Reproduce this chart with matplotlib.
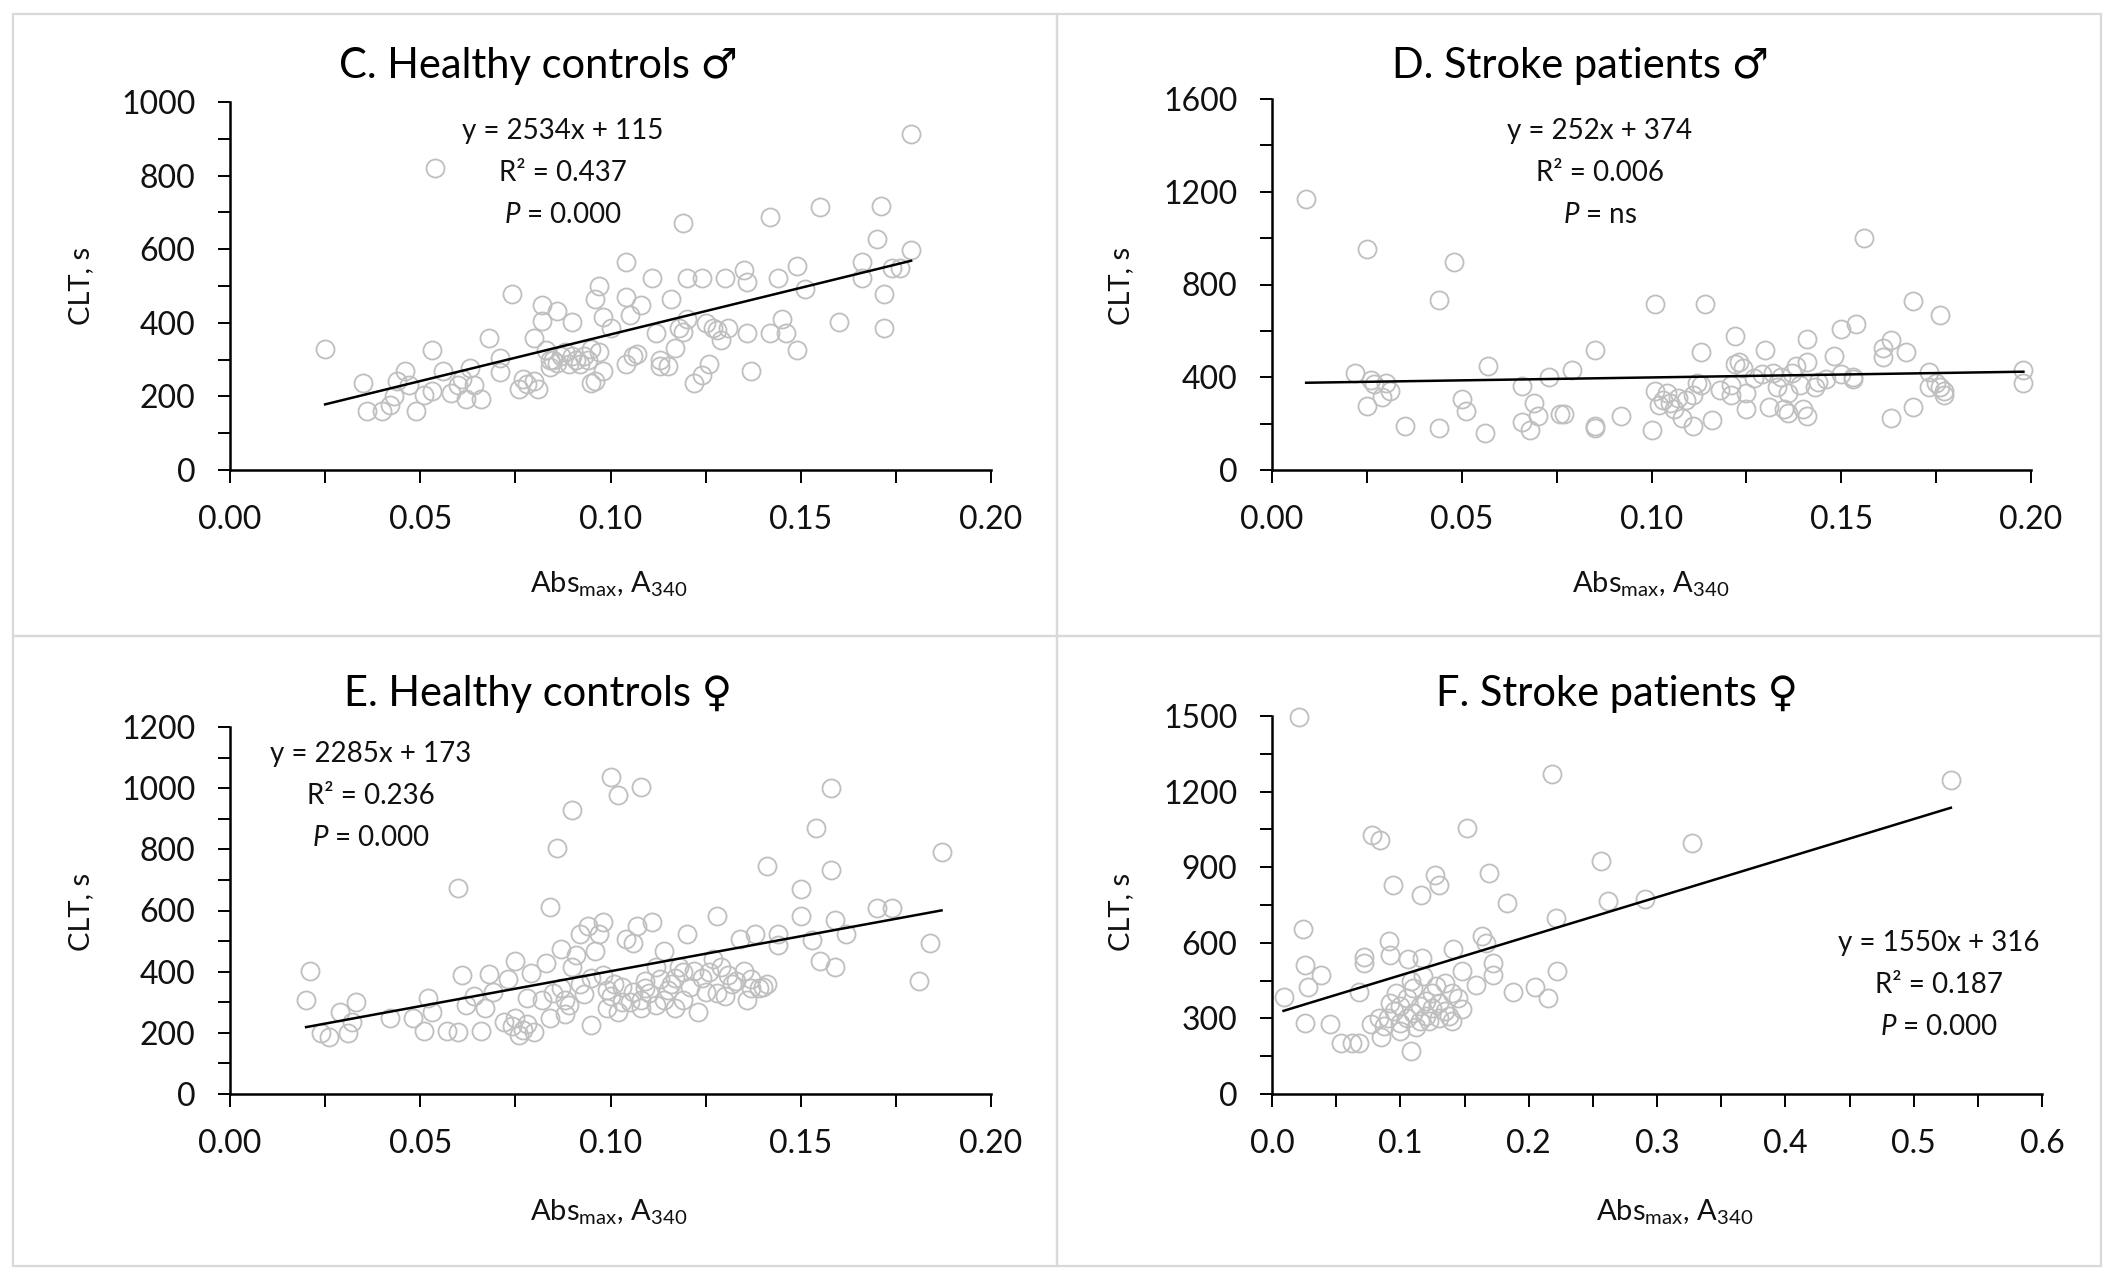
import matplotlib
matplotlib.use("Agg")
import matplotlib.pyplot as plt
from matplotlib.patches import Rectangle
from matplotlib.ticker import MultipleLocator, FormatStrFormatter
import numpy as np

plt.rcParams['font.family'] = ['Lato', 'DejaVu Sans']
plt.rcParams['mathtext.fontset'] = 'custom'
plt.rcParams['mathtext.rm'] = 'Lato'
plt.rcParams['mathtext.it'] = 'Lato:italic'

# ---------------- data ----------------
# C. Healthy controls (male)
cx = [0.025,0.054,0.179,0.035,0.036,0.040,0.042,0.044,0.046,0.043,
      0.049,0.051,0.053,0.053,0.056,0.061,0.062,0.064,0.066,0.063,
      0.068,0.071,0.071,0.074,0.076,0.077,0.080,0.081,0.080,0.082,
      0.082,0.083,0.086,0.085,0.087,0.089,0.090,0.090,0.092,0.094,
      0.095,0.096,0.096,0.097,0.097,0.098,0.098,0.100,0.104,0.104,
      0.104,0.105,0.106,0.107,0.108,0.111,0.112,0.113,0.115,0.116,
      0.117,0.118,0.119,0.120,0.120,0.122,0.124,0.124,0.126,0.127,
      0.129,0.130,0.131,0.135,0.136,0.136,0.137,0.142,0.142,0.144,
      0.145,0.146,0.149,0.149,0.151,0.155,0.160,0.166,0.166,0.170,
      0.171,0.172,0.172,0.174,0.176,0.179,
      0.084,0.086,0.088,0.091,0.093,0.095,0.084,0.078,0.060,0.047,
      0.058,0.113,0.119,0.128,0.125]
cy = [330,822,914,237,159,159,176,243,270,200,
      159,204,215,326,270,248,193,232,193,276,
      360,304,265,479,220,248,243,220,360,449,
      404,326,432,298,310,287,310,402,287,298,
      237,465,243,321,499,415,270,387,287,566,
      471,421,310,315,449,521,371,282,282,465,
      332,387,671,521,410,237,521,259,287,387,
      354,521,387,543,510,371,268,688,371,521,
      410,371,555,326,493,716,402,566,521,627,
      718,479,387,549,549,597,
      300,290,320,300,310,330,280,235,230,230,
      210,300,375,380,400]

# D. Stroke patients (male)
dx = [0.009,0.025,0.048,0.044,0.156,0.101,0.114,0.169,0.176,0.122,
      0.141,0.150,0.154,0.163,0.161,0.167,0.161,0.085,0.113,0.130,
      0.148,0.141,0.138,0.123,0.124,0.057,0.022,0.026,0.030,0.031,
      0.029,0.025,0.050,0.051,0.035,0.044,0.056,0.066,0.069,0.070,
      0.066,0.068,0.073,0.076,0.077,0.079,0.085,0.085,0.092,0.100,
      0.101,0.102,0.104,0.105,0.106,0.108,0.111,0.112,0.113,0.111,
      0.116,0.121,0.121,0.125,0.125,0.129,0.131,0.133,0.134,0.135,
      0.136,0.136,0.139,0.140,0.141,0.143,0.146,0.150,0.153,0.153,
      0.163,0.169,0.173,0.173,0.175,0.176,0.177,0.177,0.198,0.198,
      0.107,0.118,0.127,0.132,0.137,0.144,0.122,0.109,0.103,0.027]
dy = [1169,955,898,734,1001,718,718,730,668,580,
      567,606,629,559,527,509,488,518,509,518,
      491,465,447,465,438,447,417,389,377,341,
      315,274,306,253,191,182,159,362,288,235,
      209,173,403,240,240,433,191,182,235,173,
      341,279,332,288,262,226,323,377,368,191,
      217,368,323,332,262,412,271,359,403,262,
      244,332,368,262,235,359,394,412,403,394,
      226,271,421,359,377,359,341,323,430,377,
      310,345,395,420,420,380,455,300,300,370]

# E. Healthy controls (female)
ex = [0.020,0.021,0.024,0.026,0.029,0.031,0.033,0.032,0.042,0.048,
      0.051,0.052,0.053,0.057,0.060,0.061,0.060,0.062,0.064,0.066,
      0.067,0.068,0.069,0.072,0.073,0.074,0.075,0.076,0.078,0.079,
      0.080,0.082,0.083,0.084,0.084,0.086,0.087,0.087,0.088,0.090,
      0.090,0.091,0.092,0.093,0.094,0.095,0.096,0.097,0.098,0.099,
      0.100,0.101,0.102,0.102,0.104,0.106,0.106,0.107,0.108,0.108,
      0.109,0.111,0.112,0.113,0.114,0.114,0.116,0.118,0.119,0.120,
      0.122,0.123,0.125,0.127,0.128,0.129,0.130,0.132,0.134,0.135,
      0.136,0.137,0.138,0.139,0.141,0.141,0.144,0.144,0.150,0.150,
      0.153,0.154,0.155,0.158,0.158,0.159,0.159,0.162,0.170,0.174,
      0.181,0.184,0.187,
      0.100,0.103,0.105,0.110,0.112,0.115,0.117,0.121,0.124,0.126,
      0.131,0.133,0.137,0.140,0.089,0.095,0.085,0.098,0.108,0.117,
      0.128,0.088,0.078,0.075,0.077,0.103,0.109,0.119,0.099,0.092]
ey = [308,401,201,187,268,201,301,234,247,247,
      207,314,268,207,672,388,203,290,321,207,
      281,391,334,234,375,221,435,194,314,395,
      203,308,428,247,613,805,475,348,308,930,
      415,455,522,328,548,227,468,522,562,281,
      1037,361,268,977,508,495,334,548,1003,308,
      348,562,415,375,468,308,361,415,308,522,
      401,268,334,441,582,415,321,361,508,401,
      308,375,522,348,361,746,488,522,582,669,
      502,870,435,733,1001,415,569,522,609,609,
      368,495,792,
      320,350,300,330,290,340,380,350,380,400,
      390,370,345,350,290,380,330,390,280,280,
      330,260,230,250,210,300,370,400,340,360]

# F. Stroke patients (female)
fx = [0.021,0.218,0.529,0.152,0.078,0.084,0.327,0.256,0.127,0.169,
      0.130,0.094,0.116,0.183,0.262,0.291,0.221,0.024,0.091,0.164,
      0.167,0.141,0.072,0.072,0.092,0.106,0.117,0.026,0.038,0.028,
      0.148,0.172,0.172,0.222,0.159,0.188,0.205,0.215,0.009,0.068,
      0.145,0.148,0.026,0.045,0.054,0.062,0.068,0.085,0.108,0.077,
      0.083,
      0.090,0.095,0.100,0.100,0.105,0.105,0.110,0.110,0.115,0.115,
      0.120,0.120,0.125,0.125,0.130,0.130,0.135,0.140,0.140,0.097,
      0.108,0.118,0.100,0.112,0.122,0.135,0.138,0.128,0.092,0.087]
fy = [1495,1268,1248,1056,1027,1008,996,923,869,878,
      829,829,788,756,764,772,699,656,609,626,
      598,577,544,520,553,536,541,512,471,426,
      488,520,471,488,431,406,423,382,385,403,
      382,336,280,276,203,203,203,227,171,276,
      301,
      300,330,280,350,300,380,320,420,290,350,
      370,310,340,400,360,300,330,290,400,400,
      450,470,250,265,290,440,310,430,360,270]

titles = ["C. Healthy controls \u2642", "D. Stroke patients \u2642",
          "E. Healthy controls \u2640", "F. Stroke patients \u2640"]
slopes = [2534, 252, 2285, 1550]
intercepts = [115, 374, 173, 316]
r2_labels = ["0.437", "0.006", "0.236", "0.187"]
p_labels = ["0.000", "ns", "0.000", "0.000"]
ymax = [1000, 1600, 1200, 1500]
ymajor = [200, 400, 200, 300]
xmax = [0.20, 0.20, 0.20, 0.6]
xmajor = [0.05, 0.05, 0.05, 0.1]
xfmt = ['%.2f', '%.2f', '%.2f', '%.1f']

# ---------------- layout (pixel coordinates) ----------------
W, H = 2114, 1279
fig = plt.figure(figsize=(W / 100, H / 100), dpi=100)

def fxp(px):
    return px / W

def fyp(py):
    return 1 - py / H

axes_px = [(230, 102, 991, 470), (1272, 99, 2031, 470),
           (230, 727, 991, 1094), (1272, 716, 2042, 1094)]
title_pos = [(538, 66), (1581, 66), (538, 694), (1617, 694)]
eq_pos = [(563, 131), (1600, 131), (371, 754), (1939, 943)]
ylab_pos = [(81, 286), (1121, 286), (81, 912), (1121, 912)]
xlab_pos = [(609, 584), (1651, 584), (609, 1212), (1675, 1212)]

# panel frames
frames = [(13, 14, 1057, 636), (1057, 14, 2101, 636),
          (13, 636, 1057, 1266), (1057, 636, 2101, 1266)]
for (x0, y0, x1, y1) in frames:
    fig.add_artist(Rectangle((fxp(x0), fyp(y1)), fxp(x1) - fxp(x0), fyp(y0) - fyp(y1),
                             transform=fig.transFigure, fill=False,
                             edgecolor='#D9D9D9', lw=1.6))

data = [(cx, cy), (dx, dy), (ex, ey), (fx, fy)]
gray = '#BFBFBF'
txtc = '#111111'
for i in range(4):
    x0, y0, x1, y1 = axes_px[i]
    ax = fig.add_axes([fxp(x0), fyp(y1), fxp(x1) - fxp(x0), fyp(y0) - fyp(y1)])
    xs, ys = np.array(data[i][0]), np.array(data[i][1])
    ax.plot(xs, ys, 'o', ms=13, mfc='none', mec=gray, mew=1.3, zorder=2, clip_on=False)
    lx = np.array([xs.min(), xs.max()])
    ax.plot(lx, slopes[i] * lx + intercepts[i], color='black', lw=1.8, zorder=3)
    ax.set_xlim(0, xmax[i])
    ax.set_ylim(0, ymax[i])
    ax.xaxis.set_major_locator(MultipleLocator(xmajor[i]))
    ax.xaxis.set_minor_locator(MultipleLocator(xmajor[i] / 2))
    ax.yaxis.set_major_locator(MultipleLocator(ymajor[i]))
    ax.yaxis.set_minor_locator(MultipleLocator(ymajor[i] / 2))
    ax.xaxis.set_major_formatter(FormatStrFormatter(xfmt[i]))
    for s in ['top', 'right']:
        ax.spines[s].set_visible(False)
    for s in ['left', 'bottom']:
        ax.spines[s].set_linewidth(1.8)
        ax.spines[s].set_color('black')
    ax.tick_params(which='both', direction='out', length=9, width=1.4, color='black')
    ax.tick_params(axis='y', which='major', labelsize=23, pad=16, labelcolor=txtc)
    ax.tick_params(axis='x', which='major', labelsize=23, pad=16, labelcolor=txtc)
    ax.set_facecolor('none')

    tx, ty = title_pos[i]
    fig.text(fxp(tx), fyp(ty), titles[i], fontsize=30, ha='center', va='center', color='black')
    exx, eyy = eq_pos[i]
    fig.text(fxp(exx), fyp(eyy), f"y = {slopes[i]}x + {intercepts[i]}",
             fontsize=20, ha='center', va='center', color=txtc)
    fig.text(fxp(exx), fyp(eyy + 42), f"R\u00b2 = {r2_labels[i]}",
             fontsize=20, ha='center', va='center', color=txtc)
    fig.text(fxp(exx), fyp(eyy + 84), r"$\mathit{P}$ = " + p_labels[i],
             fontsize=20, ha='center', va='center', color=txtc)
    yx, yy = ylab_pos[i]
    fig.text(fxp(yx), fyp(yy), "CLT, s", fontsize=21, rotation=90,
             ha='center', va='center', color=txtc)
    xlx, xly = xlab_pos[i]
    fig.text(fxp(xlx), fyp(xly), r"Abs$_{\mathrm{max}}$, A$_{\mathrm{340}}$",
             fontsize=21, ha='center', va='center', color=txtc)

fig.savefig("out.png", dpi=100, facecolor='white')
